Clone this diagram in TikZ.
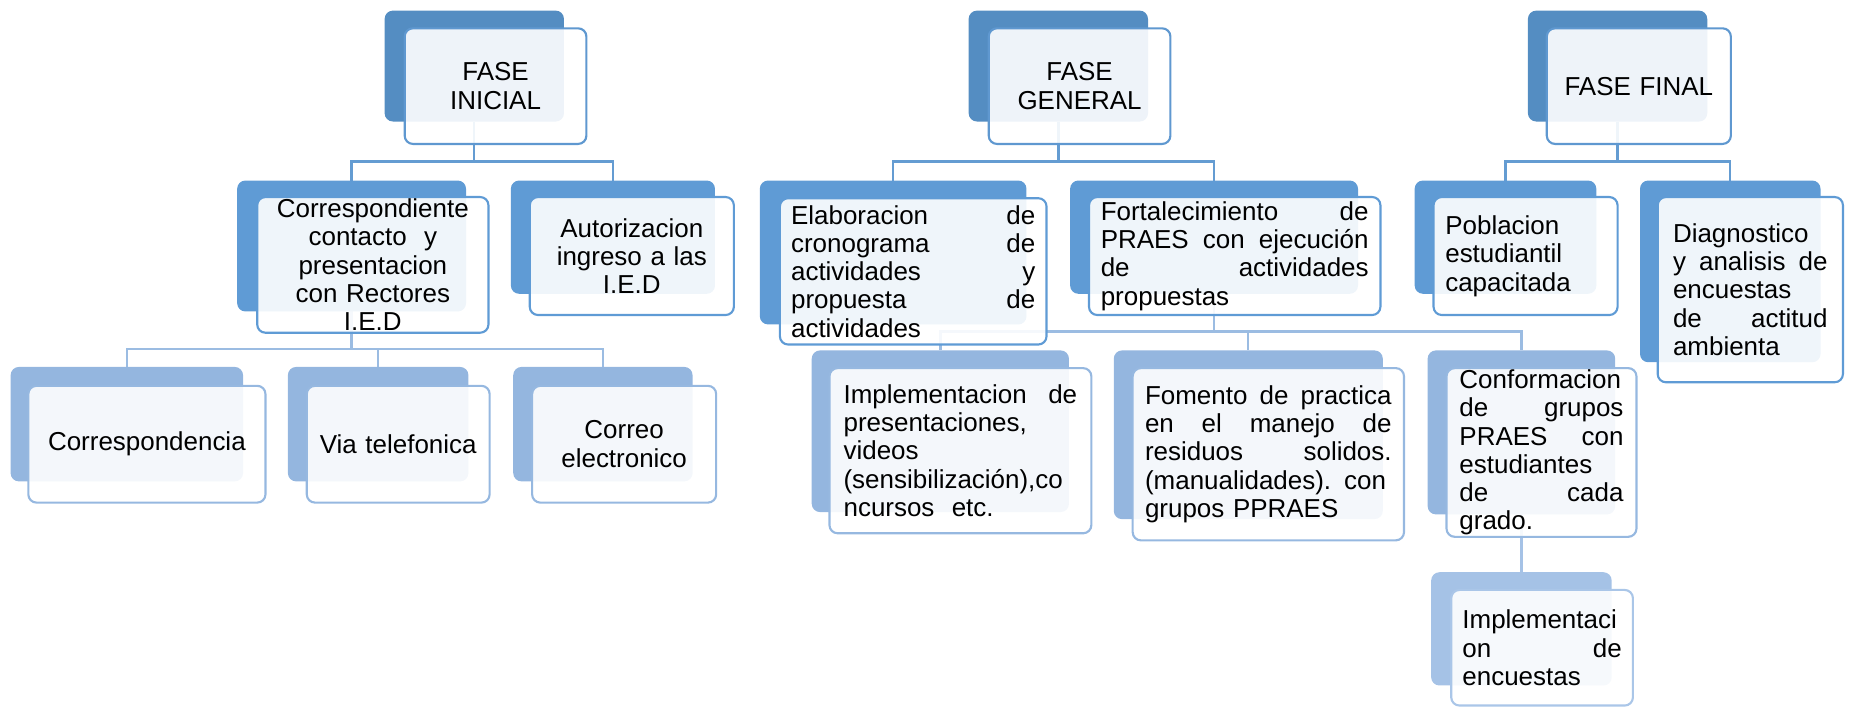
\documentclass[tikz,border=0pt]{standalone}
\usepackage{fontspec}
\setmainfont{Liberation Sans}
\usetikzlibrary{backgrounds}
\definecolor{cbkA}{RGB}{84,141,194}
\definecolor{cbkB}{RGB}{95,155,213}
\definecolor{cbkC}{RGB}{148,182,223}
\definecolor{cbkD}{RGB}{165,194,230}
\definecolor{cfrA}{RGB}{95,152,208}
\definecolor{cfrB}{RGB}{95,155,213}
\definecolor{cfrC}{RGB}{150,184,224}
\definecolor{cfrD}{RGB}{170,198,232}
\definecolor{ccoA}{RGB}{100,156,210}
\definecolor{ccoB}{RGB}{155,188,226}
\definecolor{ccoC}{RGB}{165,194,230}
\newcommand\jl[1]{\leavevmode\hbox to \hsize{\spaceskip=0.3em plus 1fil\relax #1}}
\begin{document}
\begin{tikzpicture}[x=1pt,y=-1pt,
  bx/.style={rounded corners=7pt, inner sep=0pt, outer sep=0pt},
  bkA/.style={bx, fill=cbkA},
  bkB/.style={bx, fill=cbkB},
  bkC/.style={bx, fill=cbkC},
  bkD/.style={bx, fill=cbkD},
  fr/.style={bx, fill=white, fill opacity=0.9, text opacity=1, line width=1.8pt,
    font=\fontsize{22}{24}\selectfont, align=center, text=black},
  frA/.style={fr, draw=cfrA},
  frB/.style={fr, draw=cfrB},
  frC/.style={fr, draw=cfrC},
  frD/.style={fr, draw=cfrD},
  conA/.style={draw=ccoA, line width=2pt},
  conB/.style={draw=ccoB, line width=2pt},
  conC/.style={draw=ccoC, line width=2pt},
]
\useasboundingbox (0,0) rectangle (1568,599.2);

% ---- level 0
\node[bkA, minimum width=152pt, minimum height=94pt] (inib) at (402,56) {};
\node[frA, minimum width=154pt, minimum height=98pt, text width=150pt] (inif) at (420,73) {FASE\\INICIAL};
\node[bkA, minimum width=152pt, minimum height=94pt] (genb) at (897,56) {};
\node[frA, minimum width=154pt, minimum height=98pt, text width=150pt] (genf) at (915,73) {FASE\\GENERAL};
\node[bkA, minimum width=152pt, minimum height=94pt] (finb) at (1371,56) {};
\node[frA, minimum width=156pt, minimum height=98pt, text width=150pt] (finf) at (1389,73) {FASE FINAL};

% ---- level 1
\node[bkB, minimum width=194pt, minimum height=111pt] (corb) at (298,208.5) {};
\node[frB, minimum width=196pt, minimum height=115pt, text width=190pt] (corf) at (316,224.5)
  {Correspondiente\\contacto\ \ y\\presentacion\\con Rectores\\I.E.D};
\node[bkB, minimum width=173pt, minimum height=96pt] (autb) at (519.5,201) {};
\node[frB, minimum width=173pt, minimum height=100pt, text width=165pt] (autf) at (535.5,217)
  {Autorizacion\\ingreso a las\\I.E.D};
\node[bkB, minimum width=226pt, minimum height=122pt] (elab) at (757,214) {};
\node[frB, minimum width=226pt, minimum height=124pt, text width=207pt, align=left] (elaf) at (774,230)
  {\jl{Elaboracion de}\\\jl{cronograma de}\\\jl{actividades y}\\\jl{propuesta de}\\actividades};
\node[bkB, minimum width=244pt, minimum height=96pt] (forb) at (1029,201) {};
\node[frB, minimum width=247pt, minimum height=100pt, text width=227pt, align=left] (forf) at (1046.5,217)
  {\jl{Fortalecimiento de}\\\jl{PRAES con ejecución}\\\jl{de actividades}\\propuestas};
\node[bkB, minimum width=154pt, minimum height=96pt] (pobb) at (1276,201) {};
\node[frB, minimum width=156pt, minimum height=100pt, text width=136pt, align=left] (pobf) at (1293,217)
  {Poblacion\\estudiantil\\capacitada};
\node[bkB, minimum width=153pt, minimum height=154pt] (diab) at (1466.5,230) {};
\node[frB, minimum width=157pt, minimum height=157pt, text width=131pt, align=left] (diaf) at (1483.5,245.5)
  {Diagnostico\\\jl{y analisis de}\\encuestas\\\jl{de actitud}\\ambienta};

% ---- level 2
\node[bkC, minimum width=197pt, minimum height=97pt] (cdab) at (107.5,359.5) {};
\node[frC, minimum width=201pt, minimum height=99pt, text width=195pt] (cdaf) at (124.5,376.5) {Correspondencia};
\node[bkC, minimum width=153pt, minimum height=97pt] (viab) at (320.5,359.5) {};
\node[frC, minimum width=155pt, minimum height=99pt, text width=150pt] (viaf) at (337.5,376.5) {Via telefonica};
\node[bkC, minimum width=152pt, minimum height=97pt] (crrb) at (511,359.5) {};
\node[frC, minimum width=156pt, minimum height=99pt, text width=150pt] (crrf) at (529,376.5) {Correo\\electronico};
\node[bkC, minimum width=218pt, minimum height=137pt] (impb) at (797,365.5) {};
\node[frC, minimum width=222pt, minimum height=140pt, text width=198pt, align=left] (impf) at (814,382)
  {\jl{Implementacion de}\\presentaciones,\\videos\\(sensibilización),co\\ncursos\ \ etc.};
\node[bkC, minimum width=228pt, minimum height=143pt] (fomb) at (1058,368.5) {};
\node[frC, minimum width=230pt, minimum height=146pt, text width=209pt, align=left] (fomf) at (1075,385)
  {\jl{Fomento de practica}\\\jl{en el manejo de}\\\jl{residuos solidos.}\\\jl{(manualidades). con}\\grupos PPRAES};
\node[bkC, minimum width=159pt, minimum height=139pt] (cfb) at (1289.5,366.5) {};
\node[frC, minimum width=161pt, minimum height=143pt, text width=139pt, align=left] (cff) at (1306.5,383.5)
  {Conformacion\\\jl{de grupos}\\\jl{PRAES con}\\estudiantes\\\jl{de cada}\\grado.};

% ---- level 3
\node[bkD, minimum width=153pt, minimum height=96pt] (encb) at (1289.5,533) {};
\node[frD, minimum width=154pt, minimum height=98pt, text width=135pt, align=left] (encf) at (1307,549)
  {Implementaci\\\jl{on de}\\encuestas};

% ---- connectors
\begin{scope}[on background layer]
\coordinate (ja) at (0,137);
\coordinate (jb) at (0,296);
\coordinate (jc) at (0,281);
\draw[conA] (inib.south) -- (inib.south |- ja);
\draw[conA] (corb.north) |- (inib.south |- ja) -| (autb.north);
\draw[conA] (genb.south) -- (genb.south |- ja);
\draw[conA] (elab.north) |- (genb.south |- ja) -| (forb.north);
\draw[conA] (finb.south) -- (finb.south |- ja);
\draw[conA] (pobb.north) |- (finb.south |- ja) -| (diab.north);
\draw[conB] (corb.south) -- (corb.south |- jb);
\draw[conB] (cdab.north) |- (corb.south |- jb) -| (crrb.north);
\draw[conB] (viab.north) -- (viab.north |- jb);
\draw[conB] (forb.south) -- (forb.south |- jc);
\draw[conB] (impb.north) |- (forb.south |- jc) -| (cfb.north);
\draw[conB] (fomb.north) -- (fomb.north |- jc);
\draw[conC] (cfb.south) -- (encb.north);
\end{scope}
\end{tikzpicture}
\end{document}
